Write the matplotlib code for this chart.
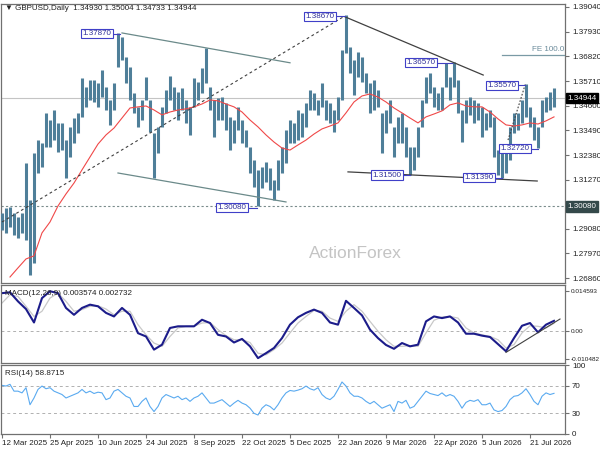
import matplotlib
matplotlib.use('Agg')
import matplotlib.pyplot as plt
import matplotlib.transforms as mtransforms

plt.rcParams['font.family'] = ['Liberation Sans', 'DejaVu Sans']

# GBPUSD daily bars, one entry per ~3 sessions (high / low)
highs = [1.2977, 1.2999, 1.3007, 1.2977, 1.2962, 1.2977, 1.3202, 1.3037, 1.3246, 1.3306,
         1.3291, 1.3426, 1.3396, 1.3441, 1.3381, 1.3381, 1.3306, 1.3366, 1.3404, 1.3426,
         1.3583, 1.3546, 1.3576, 1.3576, 1.3561, 1.3621, 1.3546, 1.3486, 1.3561, 1.3787,
         1.3770, 1.3680, 1.3636, 1.3516, 1.3456, 1.3486, 1.3591, 1.3486, 1.3336, 1.3366,
         1.3456, 1.3531, 1.3594, 1.3546, 1.3523, 1.3538, 1.3486, 1.3456, 1.3583, 1.3568,
         1.3628, 1.3718, 1.3546, 1.3486, 1.3493, 1.3501, 1.3471, 1.3411, 1.3396, 1.3456,
         1.3396, 1.3351, 1.3276, 1.3216, 1.3172, 1.3187, 1.3209, 1.3179, 1.3127, 1.3216,
         1.3276, 1.3351, 1.3396, 1.3381, 1.3441, 1.3426, 1.3471, 1.3531, 1.3516, 1.3486,
         1.3561, 1.3486, 1.3471, 1.3441, 1.3501, 1.3710, 1.3867, 1.3725, 1.3666, 1.3703,
         1.3680, 1.3606, 1.3561, 1.3576, 1.3531, 1.3426, 1.3441, 1.3486, 1.3366, 1.3411,
         1.3426, 1.3366, 1.3276, 1.3276, 1.3366, 1.3486, 1.3591, 1.3606, 1.3546, 1.3516,
         1.3546, 1.3651, 1.3591, 1.3657, 1.3576, 1.3441, 1.3486, 1.3501, 1.3486, 1.3471,
         1.3456, 1.3426, 1.3441, 1.3411, 1.3261, 1.3246, 1.3276, 1.3366, 1.3426, 1.3426,
         1.3486, 1.3557, 1.3456, 1.3411, 1.3366, 1.3486, 1.3501, 1.3523, 1.3538]
lows = [1.2902, 1.2887, 1.2917, 1.2880, 1.2865, 1.2887, 1.2857, 1.2700, 1.2752, 1.3157,
        1.3187, 1.3276, 1.3276, 1.3306, 1.3254, 1.3261, 1.3134, 1.3231, 1.3291, 1.3336,
        1.3411, 1.3456, 1.3486, 1.3478, 1.3456, 1.3501, 1.3441, 1.3374, 1.3441, 1.3636,
        1.3666, 1.3561, 1.3486, 1.3426, 1.3366, 1.3396, 1.3486, 1.3344, 1.3134, 1.3246,
        1.3366, 1.3426, 1.3486, 1.3441, 1.3396, 1.3441, 1.3381, 1.3329, 1.3456, 1.3486,
        1.3516, 1.3561, 1.3441, 1.3321, 1.3396, 1.3396, 1.3351, 1.3261, 1.3291, 1.3351,
        1.3291, 1.3276, 1.3157, 1.3097, 1.3008, 1.3089, 1.3119, 1.3082, 1.3037, 1.3082,
        1.3157, 1.3202, 1.3291, 1.3291, 1.3306, 1.3321, 1.3366, 1.3441, 1.3441, 1.3419,
        1.3456, 1.3396, 1.3381, 1.3344, 1.3396, 1.3486, 1.3695, 1.3606, 1.3508, 1.3591,
        1.3568, 1.3516, 1.3426, 1.3441, 1.3456, 1.3246, 1.3336, 1.3381, 1.3231, 1.3291,
        1.3291, 1.3231, 1.3150, 1.3172, 1.3231, 1.3366, 1.3471, 1.3516, 1.3456, 1.3441,
        1.3441, 1.3546, 1.3486, 1.3546, 1.3426, 1.3299, 1.3381, 1.3419, 1.3381, 1.3396,
        1.3321, 1.3351, 1.3366, 1.3231, 1.3149, 1.3135, 1.3157, 1.3216, 1.3336, 1.3351,
        1.3381, 1.3411, 1.3366, 1.3306, 1.3272, 1.3366, 1.3434, 1.3441, 1.3456]
bar_idx = list(range(len(highs)))

# red moving average, every second bar from bar 2
ma_vals = [1.2691, 1.2732, 1.2772, 1.2786, 1.2889, 1.2938, 1.3010, 1.3064, 1.3113, 1.3172,
           1.3230, 1.3288, 1.3329, 1.3360, 1.3405, 1.3450, 1.3455, 1.3459, 1.3441, 1.3419,
           1.3432, 1.3441, 1.3446, 1.3455, 1.3468, 1.3486, 1.3482, 1.3468, 1.3455, 1.3432,
           1.3396, 1.3365, 1.3329, 1.3297, 1.3270, 1.3261, 1.3284, 1.3306, 1.3333, 1.3356,
           1.3369, 1.3383, 1.3428, 1.3477, 1.3504, 1.3513, 1.3499, 1.3477, 1.3450, 1.3428,
           1.3405, 1.3383, 1.3410, 1.3423, 1.3437, 1.3464, 1.3473, 1.3459, 1.3455, 1.3455,
           1.3432, 1.3401, 1.3374, 1.3369, 1.3374, 1.3383, 1.3378, 1.3392, 1.3410]
ma_idx = list(range(2, 139, 2))

# MACD(12,26,9) in units of 1e-4, every second bar
macd_main = [137, 140, 107, 79, 30, 119, 144, 137, 83, 58, 83, 95, 89, 65, 52, 83, 58, -9, -21, -69,
             -51, 10, 16, 16, 16, 40, 28, -15, -21, -43, -30, -57, -100, -82, -63, -27, 22,
             49, 65, 77, 65, 30, 22, 109, 83, 56, 4, -27, -52, -66, -45, -57, -51, 34, 52, 46,
             52, 30, -11, -11, -18, -23, -49, -75, -27, 18, 28, -6, 22, 36]
macd_signal = [101, 131, 125, 89, 52, 71, 119, 137, 107, 71, 77, 89, 91, 79, 58, 71, 71, 22, -15, -45,
               -57, -21, 10, 16, 16, 28, 30, 4, -18, -33, -33, -43, -82, -88, -69, -45, -8,
               28, 52, 74, 71, 46, 34, 71, 95, 71, 34, -2, -33, -57, -57, -55, -57, -8, 38, 50,
               52, 46, 10, -8, -15, -21, -33, -63, -51, -8, 18, 16, 10, 27]
macd_idx = list(range(0, 139, 2))

rsi_vals = [70.5, 69.5, 72.0, 62.1, 62.1, 59.6, 67.1, 42.4, 52.2, 64.6, 69.5, 65.6, 67.1, 62.1, 59.6,
            57.2, 52.2, 54.7, 57.2, 59.6, 64.6, 59.6, 62.1, 58.7, 60.6, 59.6, 49.8, 52.2, 62.1, 64.6,
            59.6, 54.7, 52.2, 39.9, 39.9, 47.3, 52.2, 39.9, 32.5, 39.9, 52.2, 57.2, 54.7, 52.2, 54.7,
            49.8, 52.2, 47.3, 52.2, 54.7, 59.6, 52.2, 44.8, 44.8, 47.3, 49.8, 44.8, 39.9, 44.8, 48.8,
            44.8, 42.4, 37.4, 30.0, 27.5, 37.4, 42.4, 39.9, 34.9, 42.4, 52.2, 59.6, 63.1,
            62.1, 63.6, 65.6, 69.5, 65.6, 63.6, 67.1, 57.2, 52.2, 49.8, 54.7, 64.6, 75.4, 69.5, 59.6,
            54.7, 54.7, 52.2, 47.3, 43.8, 47.3, 42.4, 37.4, 39.9, 42.4, 32.5, 47.3, 44.8, 48.8, 37.4,
            39.9, 47.3, 54.7, 62.1, 58.7, 57.2, 55.7, 59.6, 54.7, 57.2, 54.7, 47.3, 37.4, 45.8, 48.8,
            47.3, 49.8, 42.4, 42.4, 44.8, 34.9, 32.5, 34.0, 39.9, 49.8, 54.7, 55.7, 59.6, 65.6, 57.2,
            47.3, 42.4, 54.7, 59.6, 57.2, 58.9]

date_labels = ['12 Mar 2025', '25 Apr 2025', '10 Jun 2025', '24 Jul 2025', '8 Sep 2025',
               '22 Oct 2025', '5 Dec 2025', '22 Jan 2026', '9 Mar 2026', '22 Apr 2026',
               '5 Jun 2026', '21 Jul 2026']
date_idx = [12 * k for k in range(len(date_labels))]

price_ticks = [1.39040, 1.37930, 1.36820, 1.35710, 1.34600, 1.33490, 1.32380, 1.31270,
               1.29080, 1.27970, 1.26860]
macd_ticks = [0.014593, 0.0, -0.010482]
macd_tick_labels = ['0.014593', '0.00', '-0.010482']
rsi_ticks = [100, 70, 30, 0]

# swing labels: text, box centre (bar, price), connector from / to bar
swing_labels = [
    ('1.37870', 23.75, 1.3784, 27.8, 29.5),
    ('1.38670', 79.5, 1.3861, 83.5, 85.8),
    ('1.30080', 57.5, 1.3003, 61.5, 63.8),
    ('1.31500', 96.3, 1.3149, 100.3, 102.0),
    ('1.36570', 104.8, 1.3653, 108.8, 112.5),
    ('1.35570', 125.0, 1.3551, 129.0, 130.8),
    ('1.32720', 128.3, 1.3268, 132.3, 134.0),
    ('1.31390', 119.3, 1.3137, 123.3, 125.0),
]

W, H = 600, 450
fig = plt.figure(figsize=(W / 100, H / 100), dpi=100)


def panel(top, bottom):
    return fig.add_axes([1 / W, 1 - bottom / H, 564 / W, (bottom - top) / H])


ax = panel(4, 283)
am = panel(285, 363)
ar = panel(365, 434)

for a in (ax, am, ar):
    a.set_xlim(-0.25, 140.75)
    for s in a.spines.values():
        s.set_color('#707070')
        s.set_linewidth(0.9)
    a.yaxis.tick_right()
    a.tick_params(axis='y', direction='out', length=3, pad=2, labelsize=5.8,
                  color='#707070', labelcolor='#202020')
ax.set_xticks([])
am.set_xticks([])

# ---- main price panel
ax.set_ylim(1.2664, 1.3917)
ax.set_yticks(price_ticks)
ax.set_yticklabels(['%.5f' % v for v in price_ticks])

ax.axhline(1.34944, color='#c4c4c4', lw=0.8, zorder=1)
ax.axhline(1.30080, color='#7a8c8c', lw=0.8, ls=(0, (2, 2)), zorder=1)

ax.vlines(bar_idx, lows, highs, color='#4f7f99', lw=2.2, zorder=3)
ax.plot(ma_idx, ma_vals, color='#f04848', lw=0.8, zorder=4)

# channel and trend lines
ax.plot([30, 72], [1.3787, 1.3653], color='#6b8a8a', lw=0.9, zorder=5)
ax.plot([29, 71], [1.3158, 1.3028], color='#6b8a8a', lw=0.9, zorder=5)
ax.plot([0, 85.3], [1.2938, 1.3859], color='#404040', lw=0.8, ls=(0, (2.5, 2.5)), zorder=5)
ax.plot([85.8, 120.3], [1.3859, 1.3598], color='#404040', lw=0.9, zorder=5)
ax.plot([86.5, 133.8], [1.3163, 1.3122], color='#404040', lw=0.9, zorder=5)
ax.plot([126.5, 130.8], [1.3306, 1.3555], color='#404040', lw=0.8, ls=(0, (1.5, 1.5)), zorder=5)
ax.plot([125, 140.75], [1.3688, 1.3688], color='#7a9aa5', lw=0.9, zorder=5)
ax.text(140.5, 1.3697, 'FE 100.0', ha='right', va='bottom', fontsize=5.8, color='#6a8a9a', zorder=6)

for txt, cx, cy, x0, x1 in swing_labels:
    ax.plot([x0, x1], [cy, cy], color='#4040c0', lw=0.8, zorder=6)
    ax.text(cx, cy, txt, ha='center', va='center', fontsize=5.8, color='#30309a', zorder=7,
            bbox=dict(boxstyle='square,pad=0.15', fc='white', ec='#4040c8', lw=0.8))

trans = mtransforms.blended_transform_factory(ax.transAxes, ax.transData)
ax.text(1.004, 1.34944, '1.34944', transform=trans, ha='left', va='center', fontsize=5.8,
        color='white', clip_on=False, zorder=8,
        bbox=dict(boxstyle='square,pad=0.2', fc='black', ec='black'))
ax.text(1.004, 1.30080, '1.30080', transform=trans, ha='left', va='center', fontsize=5.8,
        color='white', clip_on=False, zorder=8,
        bbox=dict(boxstyle='square,pad=0.2', fc='#34494a', ec='#34494a'))

fig.text(5 / W, 1 - 9 / H, '\u25bc GBPUSD,Daily  1.34930 1.35004 1.34733 1.34944',
         fontsize=5.8, va='center', ha='left', color='#202020')
fig.text(355 / W, 1 - 253 / H, 'ActionForex', fontsize=12.5, color='#c4c4c4',
         ha='center', va='center')

# ---- MACD panel
am.set_ylim(-0.01178, 0.01667)
am.set_yticks(macd_ticks)
am.set_yticklabels(macd_tick_labels)
am.tick_params(axis='y', labelsize=4.6, pad=1)
am.axhline(0, color='#b0b0b0', lw=0.7, ls=(0, (3, 3)))
am.plot(macd_idx, [v * 1e-4 for v in macd_signal], color='#c8c8c8', lw=0.9)
am.plot(macd_idx, [v * 1e-4 for v in macd_main], color='#1c1c8a', lw=1.5)
am.plot([126, 139.5], [-0.0079, 0.00426], color='#404040', lw=0.8)
am.text(0.007, 0.93, 'MACD(12,26,9) 0.003574 0.002732', transform=am.transAxes,
        fontsize=5.8, va='top', ha='left', color='#202020')

# ---- RSI panel
ar.set_ylim(0, 100)
ar.set_yticks(rsi_ticks)
ar.set_yticklabels([str(v) for v in rsi_ticks])
ar.axhline(70, color='#b0b0b0', lw=0.7, ls=(0, (3, 3)))
ar.axhline(30, color='#b0b0b0', lw=0.7, ls=(0, (3, 3)))
ar.plot(bar_idx, rsi_vals, color='#5aaaf0', lw=0.8)
ar.text(0.007, 0.93, 'RSI(14) 58.8715', transform=ar.transAxes,
        fontsize=5.8, va='top', ha='left', color='#202020')
ar.set_xticks(date_idx)
ar.set_xticklabels(date_labels, ha='left')
ar.tick_params(axis='x', direction='out', length=3, pad=1.5, labelsize=5.8,
               color='#707070', labelcolor='#202020')

fig.savefig('out.png', dpi=100)
